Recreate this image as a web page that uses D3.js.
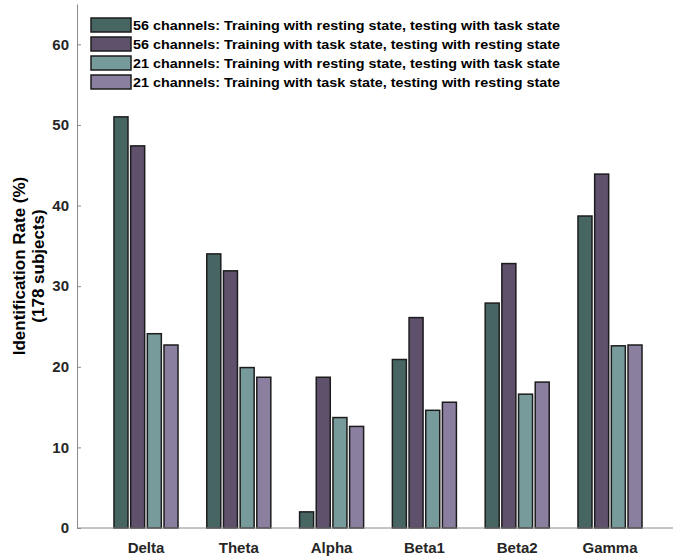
<!DOCTYPE html>
<html>
<head>
<meta charset="utf-8">
<script src="https://cdn.jsdelivr.net/npm/d3@7"></script>
<style>
  html, body { margin: 0; padding: 0; background: #fff; }
  svg { display: block; font-family: "Liberation Sans", Arial, sans-serif; }
</style>
</head>
<body>
<svg id="chart" width="673" height="557"></svg>
<script>
// Frequency bands on the x axis
const bands = ["Delta", "Theta", "Alpha", "Beta1", "Beta2", "Gamma"];

// Identification rate (%) per band for each train/test setup
const series = [
  "56 channels: Training with resting state, testing with task state",
  "56 channels: Training with task state, testing with resting state",
  "21 channels: Training with resting state, testing with task state",
  "21 channels: Training with task state, testing with resting state"
];
const ch56RestToTask = [51.0, 34.0, 2.0, 20.9, 27.9, 38.7];
const ch56TaskToRest = [47.4, 31.9, 18.7, 26.1, 32.8, 43.9];
const ch21RestToTask = [24.1, 19.9, 13.7, 14.6, 16.6, 22.6];
const ch21TaskToRest = [22.7, 18.7, 12.6, 15.6, 18.1, 22.7];

const yTicks = [0, 10, 20, 30, 40, 50, 60];
const colors = ["#476663", "#5f506b", "#779a9b", "#8b7fa0"];

const values = [ch56RestToTask, ch56TaskToRest, ch21RestToTask, ch21TaskToRest];

const svg = d3.select("#chart");
const axisLeft = 77, axisRight = 673, axisBottom = 528, axisTop = 4;

const x0 = d3.scaleBand()
  .domain(bands)
  .range([99.6, 656.4])
  .paddingInner(0.31)
  .paddingOuter(0.155);

const x1 = d3.scaleBand()
  .domain(d3.range(series.length))
  .range([0, x0.bandwidth()])
  .paddingInner(0.16)
  .paddingOuter(0);

const y = d3.scaleLinear().domain([0, 65]).range([axisBottom, axisTop]);

// Bars
const groups = svg.append("g")
  .selectAll("g")
  .data(bands)
  .join("g")
  .attr("transform", d => `translate(${x0(d)},0)`);

groups.selectAll("rect")
  .data((band, bi) => values.map((vals, si) => ({ si, v: vals[bi] })))
  .join("rect")
  .attr("x", d => x1(d.si))
  .attr("width", x1.bandwidth())
  .attr("y", d => y(d.v))
  .attr("height", d => y(0) - y(d.v))
  .attr("fill", d => colors[d.si])
  .attr("stroke", "#1c1c1c")
  .attr("stroke-width", 1.5);

// Y axis (ticks pointing inward)
const yAxis = d3.axisLeft(y).tickValues(yTicks).tickSizeInner(-4).tickSizeOuter(0).tickPadding(8);
const gy = svg.append("g").attr("transform", `translate(${axisLeft},0)`).call(yAxis);
gy.select(".domain").attr("stroke", "#8a8a8a").attr("stroke-width", 1);
gy.selectAll(".tick line").attr("stroke", "#8a8a8a");
gy.selectAll(".tick text")
  .attr("font-size", 15).attr("font-weight", "bold").attr("fill", "#262626")
  .attr("font-family", "Liberation Sans, Arial, sans-serif");

// X axis line and band labels
svg.append("line")
  .attr("x1", axisLeft).attr("x2", axisRight)
  .attr("y1", axisBottom).attr("y2", axisBottom)
  .attr("stroke", "#8a8a8a").attr("stroke-width", 1);

svg.append("g").selectAll("text")
  .data(bands)
  .join("text")
  .attr("x", d => x0(d) + x0.bandwidth() / 2)
  .attr("y", 553)
  .attr("text-anchor", "middle")
  .attr("font-size", 15).attr("font-weight", "bold").attr("fill", "#262626")
  .text(d => d);

// Y axis title
const title = svg.append("text")
  .attr("transform", "translate(0,266) rotate(-90)")
  .attr("text-anchor", "middle")
  .attr("font-size", 17).attr("font-weight", "bold").attr("fill", "#000");
title.append("tspan").attr("x", 0).attr("y", 25).text("Identification Rate (%)");
title.append("tspan").attr("x", 0).attr("y", 44).text("(178 subjects)");

// Legend
const legend = svg.append("g");
const rowY = [25, 44, 63, 82];
series.forEach((name, i) => {
  legend.append("rect")
    .attr("x", 91).attr("y", rowY[i] - 7)
    .attr("width", 40).attr("height", 14)
    .attr("fill", colors[i])
    .attr("stroke", "#1c1c1c").attr("stroke-width", 1.5);
  legend.append("text")
    .attr("x", 133).attr("y", rowY[i] + 5)
    .attr("font-size", 13.5).attr("font-weight", "bold").attr("fill", "#000")
    .attr("textLength", 427).attr("lengthAdjust", "spacingAndGlyphs")
    .text(name);
});
</script>
</body>
</html>
